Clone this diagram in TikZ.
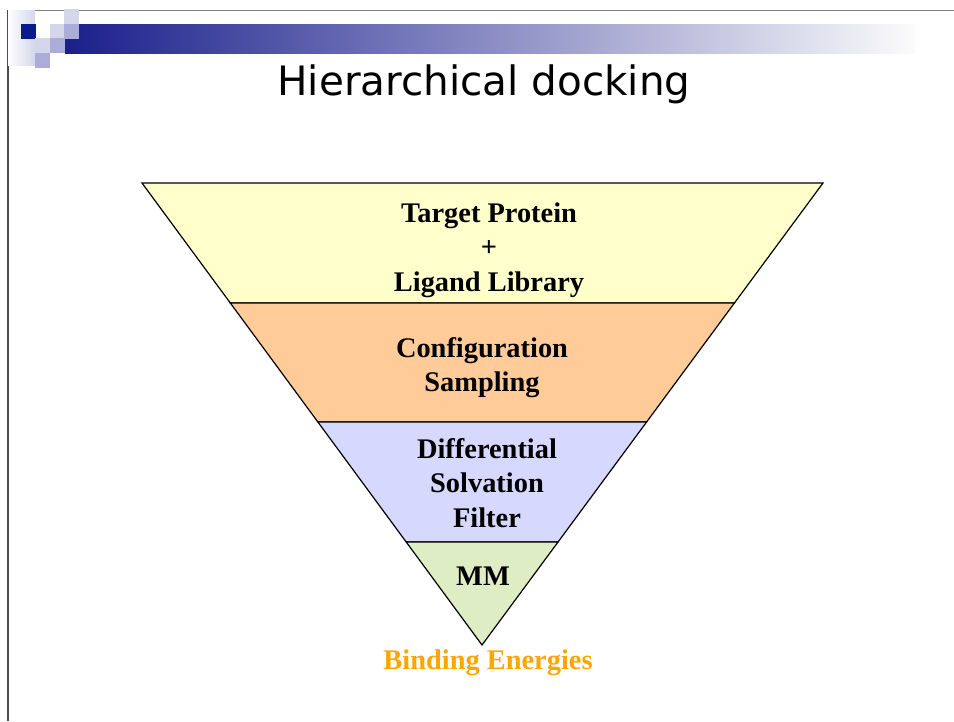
\documentclass[tikz,border=0pt]{standalone}
\usepackage{fontspec}
\setmainfont{Liberation Serif}
\newfontfamily\titlefont{DejaVu Sans}
\usepackage{xcolor}
\usepackage{tikz}
\usetikzlibrary{calc, positioning}

\definecolor{tiledark}{HTML}{0A1A8E}
\definecolor{tilemid}{HTML}{ABADD8}
\definecolor{tilelight}{HTML}{D4D6EA}
\definecolor{barblue}{HTML}{1A1F8C}
\definecolor{bargray}{HTML}{B3B4CC}
\definecolor{bandyellow}{HTML}{FFFFCC}
\definecolor{bandorange}{HTML}{FFCC99}
\definecolor{bandblue}{HTML}{D7D8FD}
\definecolor{bandgreen}{HTML}{DFEDC4}
\definecolor{energyorange}{HTML}{FFA500}

\begin{document}
\begin{tikzpicture}[
    x=1pt, y=-1pt,
    frame/.style={line width=1.5pt},
    band/.style={draw=black, line width=1.2pt},
    bandtext/.style={font=\bfseries\fontsize{28.4}{34.5}\selectfont, align=center, inner sep=0pt},
    heading/.style={font=\titlefont\fontsize{40.5}{46}\selectfont, inner sep=0pt},
  ]

  \useasboundingbox (0,0) rectangle (954,721);

  % Slide frame
  \draw[frame, draw=gray] (8,10.5) -- (954,10.5);
  \draw[frame, draw=gray!60!black, line width=2pt] (8,10) -- (8,721);

  % Header tiles and bar
  \shade[left color=white, right color=tilelight] (8,10) rectangle (35,65);
  \shade[left color=barblue, middle color=bargray, right color=white!97!gray] (65,24) rectangle (915,53);
  \fill[tiledark] (21,24) rectangle ++(15,15);
  \foreach \x/\y in {50/24, 64/9, 35/38}
    \fill[tilelight] (\x,\y) rectangle ++(15,15);
  \foreach \x/\y in {64/24, 50/38, 35/53}
    \fill[tilemid] (\x,\y) rectangle ++(15,15);

  % Title
  \node[heading, anchor=base] (title) at (484,95) {Hierarchical docking};

  % Funnel corners
  \coordinate (tl) at (142,183);
  \coordinate (tr) at (823,183);
  \coordinate (apex) at (482,645);
  \coordinate (l1) at ($(tl)!0.2597!(apex)$);
  \coordinate (r1) at ($(tr)!0.2597!(apex)$);
  \coordinate (l2) at ($(tl)!0.5173!(apex)$);
  \coordinate (r2) at ($(tr)!0.5173!(apex)$);
  \coordinate (l3) at ($(tl)!0.7771!(apex)$);
  \coordinate (r3) at ($(tr)!0.7771!(apex)$);

  % Funnel bands
  \filldraw[band, fill=bandyellow] (tl) -- (tr) -- (r1) -- (l1) -- cycle;
  \filldraw[band, fill=bandorange] (l1) -- (r1) -- (r2) -- (l2) -- cycle;
  \filldraw[band, fill=bandblue] (l2) -- (r2) -- (r3) -- (l3) -- cycle;
  \filldraw[band, fill=bandgreen] (l3) -- (r3) -- (apex) -- cycle;

  % Band texts
  \node[bandtext] (input) at (489,250) {Target Protein\\+\\Ligand Library};
  \node[bandtext] (sampling) at (482,367.5) {Configuration\\Sampling};
  \node[bandtext] (filter) at (487,482.7) {Differential\\Solvation\\Filter};
  \node[bandtext, anchor=base] (mm) at (483,585) {MM};

  % Output below the tip
  \node[bandtext, text=energyorange, below=5pt of apex, xshift=6pt] (energies) {Binding Energies};

\end{tikzpicture}
\end{document}
